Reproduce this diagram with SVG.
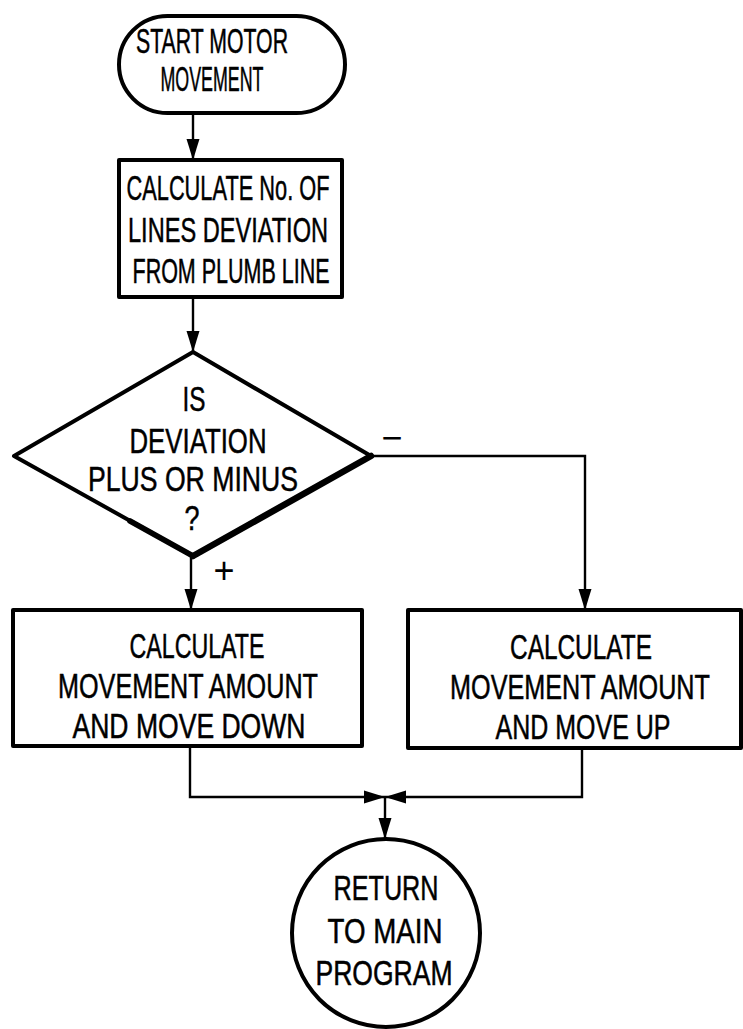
<svg xmlns="http://www.w3.org/2000/svg" width="743" height="1029" viewBox="0 0 743 1029">
<defs>
<marker id="ah" markerUnits="userSpaceOnUse" markerWidth="22" markerHeight="14" refX="21" refY="7" orient="auto">
<path d="M0,0.5 L21,7 L0,13.5 z" fill="#000"/>
</marker>
<style>
.shape{fill:#fff;stroke:#000;stroke-width:4;stroke-linejoin:round}
.conn{fill:none;stroke:#000;stroke-width:2.4}
.t{font-family:"Liberation Sans",Arial,sans-serif;font-size:35px;fill:#000;stroke:#000;stroke-width:0.5;text-anchor:middle}
.lbl{font-family:"Liberation Sans",Arial,sans-serif;font-size:36px;fill:#000;text-anchor:middle}
</style>
</defs>
<rect width="743" height="1029" fill="#fff"/>
<g id="connectors">
<line class="conn" x1="193" y1="113" x2="193" y2="160" marker-end="url(#ah)"/>
<line class="conn" x1="193" y1="297" x2="193" y2="352" marker-end="url(#ah)"/>
<line class="conn" x1="191" y1="556" x2="191" y2="610" marker-end="url(#ah)"/>
<polyline class="conn" points="371,456 585,456 585,610" marker-end="url(#ah)"/>
<polyline class="conn" points="190,746 190,797 385,797" marker-end="url(#ah)"/>
<polyline class="conn" points="582,748 582,797 385,797" marker-end="url(#ah)"/>
<line class="conn" x1="385" y1="797" x2="385" y2="839" marker-end="url(#ah)"/>
<text class="lbl" x="392" y="450">−</text>
<text class="lbl" x="224" y="583">+</text>
</g>
<g id="start">
<rect class="shape" x="119" y="16" width="226" height="97" rx="48.5" ry="48.5"/>
<text class="t" x="212" y="53" textLength="152" lengthAdjust="spacingAndGlyphs">START MOTOR</text>
<text class="t" x="212" y="91" textLength="103" lengthAdjust="spacingAndGlyphs">MOVEMENT</text>
</g>
<g id="calc-lines">
<rect class="shape" x="119" y="160" width="223" height="137"/>
<text class="t" x="228" y="200" textLength="203" lengthAdjust="spacingAndGlyphs">CALCULATE No. OF</text>
<text class="t" x="228" y="242" textLength="200" lengthAdjust="spacingAndGlyphs">LINES DEVIATION</text>
<text class="t" x="231" y="283" textLength="197" lengthAdjust="spacingAndGlyphs">FROM PLUMB LINE</text>
</g>
<g id="decision">
<polygon class="shape" points="193,352 371,456 193,556 14,456"/>
<line x1="371" y1="456" x2="193" y2="556" stroke="#000" stroke-width="6.5" stroke-linecap="round"/>
<line x1="193" y1="556" x2="130" y2="521" stroke="#000" stroke-width="5.5" stroke-linecap="round"/>
<text class="t" x="194" y="411" textLength="23" lengthAdjust="spacingAndGlyphs">IS</text>
<text class="t" x="198" y="453" textLength="137" lengthAdjust="spacingAndGlyphs">DEVIATION</text>
<text class="t" x="193" y="491" textLength="210" lengthAdjust="spacingAndGlyphs">PLUS OR MINUS</text>
<text class="t" x="192" y="530" textLength="15" lengthAdjust="spacingAndGlyphs">?</text>
</g>
<g id="move-down">
<rect class="shape" x="13" y="610" width="349" height="136"/>
<text class="t" x="197" y="658" textLength="135" lengthAdjust="spacingAndGlyphs">CALCULATE</text>
<text class="t" x="188" y="698" textLength="260" lengthAdjust="spacingAndGlyphs">MOVEMENT AMOUNT</text>
<text class="t" x="189" y="738" textLength="233" lengthAdjust="spacingAndGlyphs">AND MOVE DOWN</text>
</g>
<g id="move-up">
<rect class="shape" x="408" y="610" width="333" height="138"/>
<text class="t" x="581" y="659" textLength="142" lengthAdjust="spacingAndGlyphs">CALCULATE</text>
<text class="t" transform="translate(580,699) scale(0.72,1)" x="0" y="0">MOVEMENT AMOUNT</text>
<text class="t" x="583" y="739" textLength="175" lengthAdjust="spacingAndGlyphs">AND MOVE UP</text>
</g>
<g id="return">
<circle class="shape" cx="386" cy="933" r="94"/>
<text class="t" x="386" y="900" textLength="105" lengthAdjust="spacingAndGlyphs">RETURN</text>
<text class="t" x="385" y="943" textLength="115" lengthAdjust="spacingAndGlyphs">TO MAIN</text>
<text class="t" x="384" y="985" textLength="137" lengthAdjust="spacingAndGlyphs">PROGRAM</text>
</g>
</svg>
